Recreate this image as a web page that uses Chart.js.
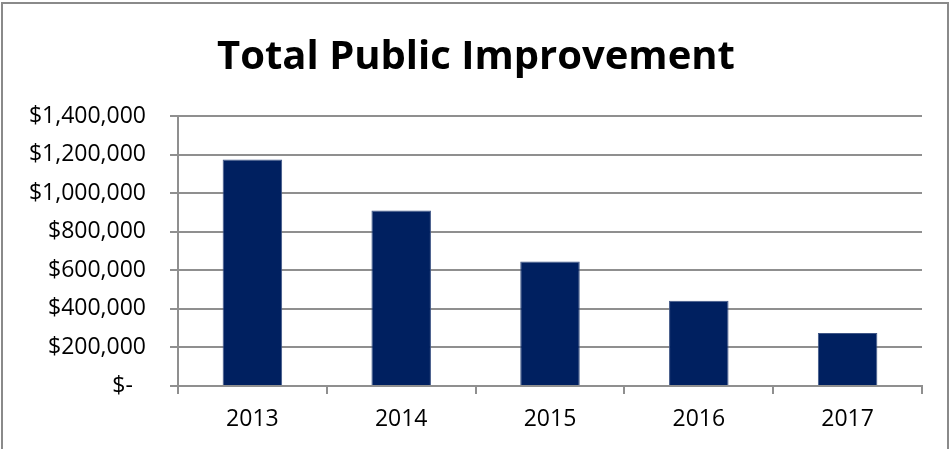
<!DOCTYPE html>
<html>
<head>
<meta charset="utf-8">
<script src="https://cdn.jsdelivr.net/npm/chart.js@4/dist/chart.umd.min.js"></script>
<style>
  html, body { margin: 0; padding: 0; background: #fff; overflow: hidden; }
  #wrap { position: relative; width: 952px; height: 449px; }
  #frame {
    position: absolute; left: 1px; top: 2px; width: 944px; height: 500px;
    border: 2px solid #8a8a8a; pointer-events: none;
  }
  canvas { position: absolute; left: 0; top: 0; }
</style>
</head>
<body>
<div id="wrap">
  <canvas id="publicImprovementChart" width="952" height="449"></canvas>
  <div id="frame"></div>
</div>
<script>
const years = ['2013', '2014', '2015', '2016', '2017'];
const totals = [1175000, 910000, 645000, 442000, 275000];
const yTicks = [0, 200000, 400000, 600000, 800000, 1000000, 1200000, 1400000];

const gridGray = '#8f8f8f';
const fontFamily = '"Open Sans", "DejaVu Sans", sans-serif';

function money(v) {
    if (v === 0) return '$-\u2007';
    return '$' + v.toLocaleString('en-US');
}

const ctx = document.getElementById('publicImprovementChart');
new Chart(ctx, {
    type: 'bar',
    data: {
        labels: years,
        datasets: [
            {
                label: 'Total Public Improvement',
                data: totals,
                backgroundColor: '#002060',
                borderColor: '#3f5686',
                borderWidth: 1,
                barPercentage: 0.4,
                categoryPercentage: 1.0
            }
        ]
    },
    options: {
        responsive: false,
        animation: false,
        layout: {
            padding: 0
        },
        scales: {
            x: {
                afterFit: (scale) => { scale.height = 63; },
                grid: {
                    offset: true,
                    drawOnChartArea: false,
                    drawTicks: true,
                    tickLength: 8,
                    color: gridGray,
                    lineWidth: 2
                },
                border: { color: gridGray, width: 2 },
                ticks: {
                    color: '#000',
                    padding: 12,
                    font: { family: fontFamily, size: 23 }
                }
            },
            y: {
                min: 0,
                max: 1400000,
                afterFit: (scale) => { scale.width = 178; },
                afterBuildTicks: (scale) => {
                    scale.ticks = yTicks.map(v => ({ value: v }));
                },
                grid: {
                    drawTicks: true,
                    tickLength: 8,
                    color: gridGray,
                    lineWidth: 2
                },
                border: { color: gridGray, width: 2 },
                ticks: {
                    color: '#000',
                    padding: 24,
                    font: { family: fontFamily, size: 23 },
                    callback: (v) => money(v)
                }
            },
            // empty right-hand spacer so the title stays centred on the whole canvas
            spacer: {
                position: 'right',
                min: 0,
                max: 1,
                afterFit: (scale) => { scale.width = 30; },
                grid: { display: false, drawTicks: false },
                border: { display: false },
                ticks: { display: false }
            }
        },
        plugins: {
            legend: { display: false },
            tooltip: { enabled: false },
            title: {
                display: true,
                text: 'Total Public Improvement',
                color: '#000',
                font: { family: fontFamily, size: 40, weight: 'bold', lineHeight: 1.2 },
                padding: { top: 34, bottom: 34 }
            }
        }
    }
});
</script>
</body>
</html>
